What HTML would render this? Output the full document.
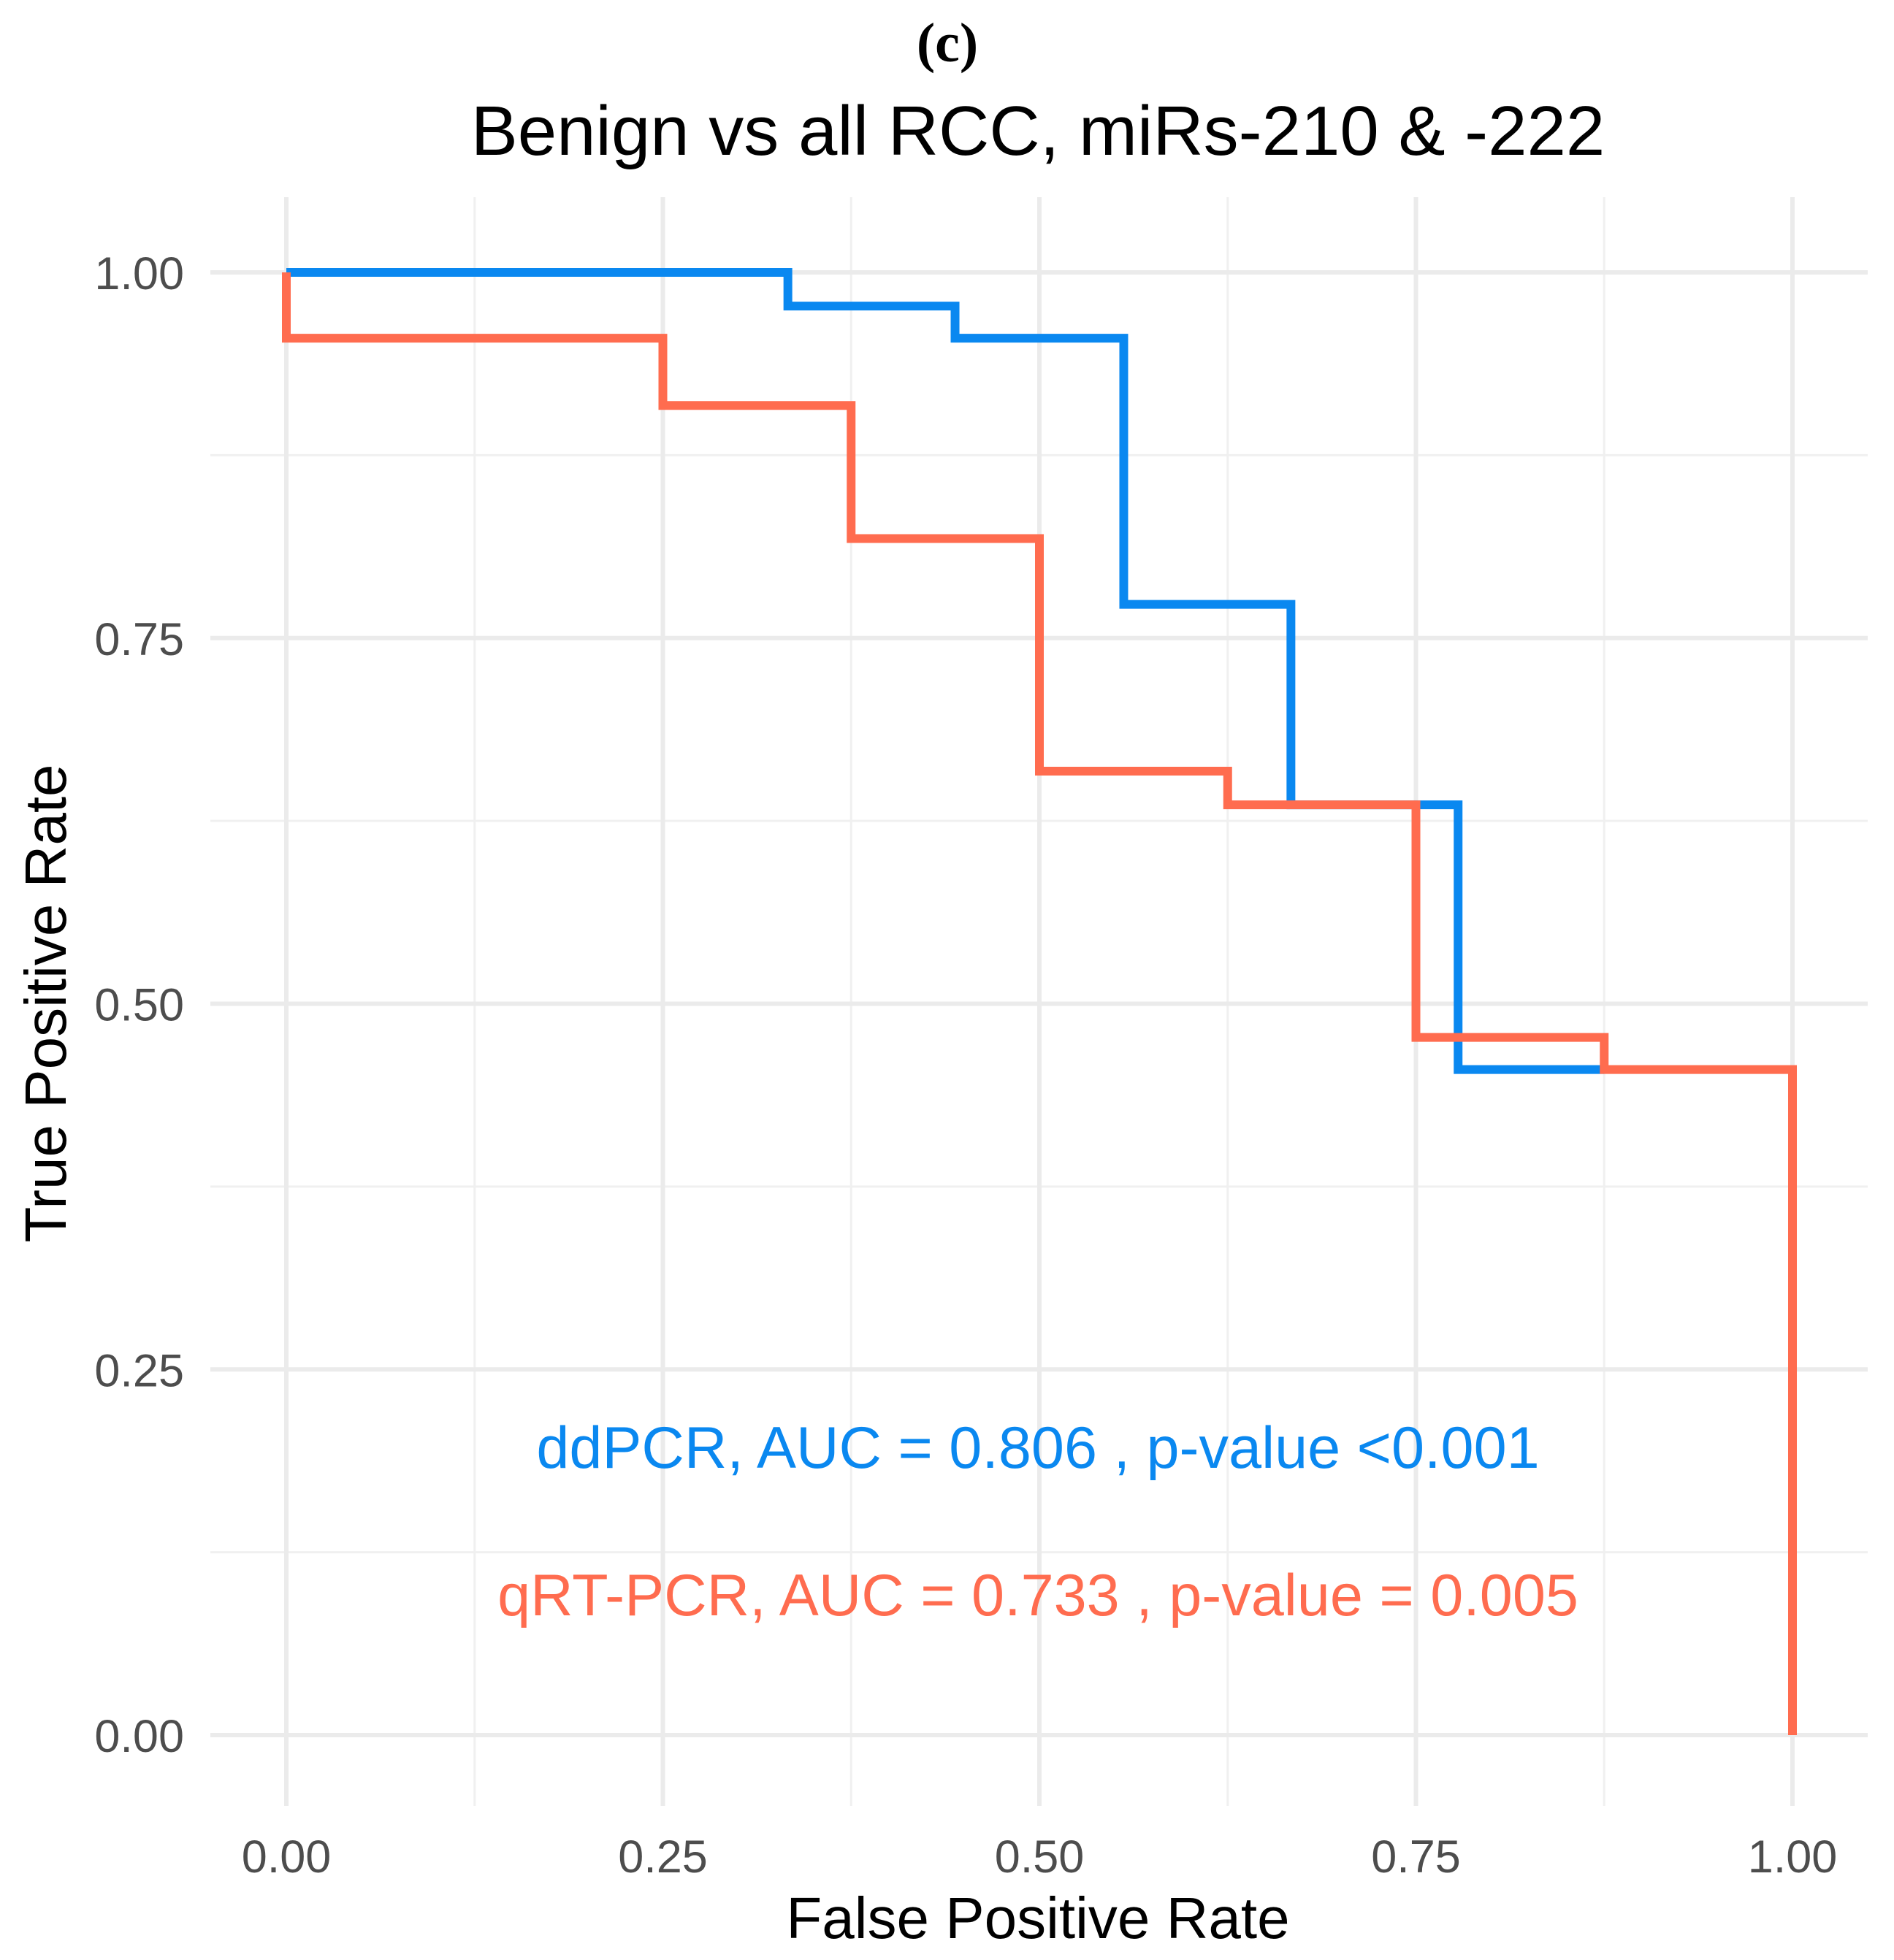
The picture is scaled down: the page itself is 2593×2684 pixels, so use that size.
<!DOCTYPE html>
<html><head><meta charset="utf-8"><style>
html,body{margin:0;padding:0;background:#fff;}
svg{display:block;}
</style></head><body>
<svg id="chart" width="2593" height="2684" viewBox="0 0 2593 2684" xmlns="http://www.w3.org/2000/svg">
<rect width="2593" height="2684" fill="#fff"/>
<text x="1297" y="84" text-anchor="middle" font-family="Liberation Serif, serif" font-weight="bold" font-size="76" fill="#000">(c)</text>
<text x="1421" y="212" text-anchor="middle" font-family="Liberation Sans, sans-serif" font-size="96" fill="#000">Benign vs all RCC, miRs-210 &amp; -222</text>
<g id="grid"></g>
<g id="series"></g>
<g id="ticks"></g>
<text x="1421" y="2654" text-anchor="middle" font-family="Liberation Sans, sans-serif" font-size="80" fill="#000">False Positive Rate</text>
<text transform="translate(90,1374) rotate(-90)" text-anchor="middle" font-family="Liberation Sans, sans-serif" font-size="80" fill="#000">True Positive Rate</text>
<text x="1421" y="2010" text-anchor="middle" font-family="Liberation Sans, sans-serif" font-size="81" fill="#0a88f0">ddPCR, AUC = 0.806 , p-value &lt;0.001</text>
<text x="1421" y="2212" text-anchor="middle" font-family="Liberation Sans, sans-serif" font-size="81" fill="#ff6c4f">qRT-PCR, AUC = 0.733 , p-value = 0.005</text>
</svg>
<script>
const majorTicks = [0, 0.25, 0.5, 0.75, 1];
const tickLabels = ["0.00", "0.25", "0.50", "0.75", "1.00"];
const minorTicks = [0.125, 0.375, 0.625, 0.875];
const ddpcrFpr = [0, 0.333, 0.333, 0.444, 0.444, 0.556, 0.556, 0.667, 0.667, 0.778, 0.778, 0.875];
const ddpcrTpr = [1, 1, 0.977, 0.977, 0.955, 0.955, 0.773, 0.773, 0.636, 0.636, 0.455, 0.455];
const qrtFpr = [0, 0, 0.25, 0.25, 0.375, 0.375, 0.5, 0.5, 0.625, 0.625, 0.75, 0.75, 0.875, 0.875, 1, 1];
const qrtTpr = [1, 0.955, 0.955, 0.909, 0.909, 0.818, 0.818, 0.659, 0.659, 0.636, 0.636, 0.477, 0.477, 0.455, 0.455, 0];

const NS = "http://www.w3.org/2000/svg";
const X0 = 392, X1 = 2454, Y0 = 2376, Y1 = 373;
const PL = 288, PR = 2557, PT = 270, PB = 2473;
const sx = v => X0 + v * (X1 - X0);
const sy = v => Y0 - v * (Y0 - Y1);
function mk(tag, attrs, parent) {
  const e = document.createElementNS(NS, tag);
  for (const k in attrs) e.setAttribute(k, attrs[k]);
  parent.appendChild(e);
  return e;
}
const grid = document.getElementById('grid');
const ticks = document.getElementById('ticks');
const series = document.getElementById('series');
minorTicks.forEach(v => {
  let l = mk('line', {x1: sx(v), x2: sx(v), y1: PT, y2: PB, stroke: '#f0f0f0', 'stroke-width': 3}, grid);
  
  
  l = mk('line', {x1: PL, x2: PR, y1: sy(v), y2: sy(v), stroke: '#f0f0f0', 'stroke-width': 3}, grid);
  
  
});
majorTicks.forEach((v, i) => {
  let l = mk('line', {x1: sx(v), x2: sx(v), y1: PT, y2: PB, stroke: '#ebebeb', 'stroke-width': 6}, grid);
  
  
  l = mk('line', {x1: PL, x2: PR, y1: sy(v), y2: sy(v), stroke: '#ebebeb', 'stroke-width': 6}, grid);
  
  
  let t = mk('text', {x: sx(v), y: 2564, 'text-anchor': 'middle', 'font-family': 'Liberation Sans, sans-serif', 'font-size': 63, fill: '#4d4d4d'}, ticks);
  t.textContent = tickLabels[i];
  
  
  t = mk('text', {x: 252, y: sy(v) + 23, 'text-anchor': 'end', 'font-family': 'Liberation Sans, sans-serif', 'font-size': 63, fill: '#4d4d4d'}, ticks);
  t.textContent = tickLabels[i];
  
  
});
function drawLine(xs, ys, color, name) {
  const pts = xs.map((x, i) => sx(x) + ',' + sy(ys[i])).join(' ');
  const p = mk('polyline', {points: pts, fill: 'none', stroke: color, 'stroke-width': 12, 'stroke-linejoin': 'miter'}, series);
  
  
}
drawLine(ddpcrFpr, ddpcrTpr, '#0a88f0', 'ddpcr-roc-line');
drawLine(qrtFpr, qrtTpr, '#ff6c4f', 'qrtpcr-roc-line');
</script>
</body></html>
